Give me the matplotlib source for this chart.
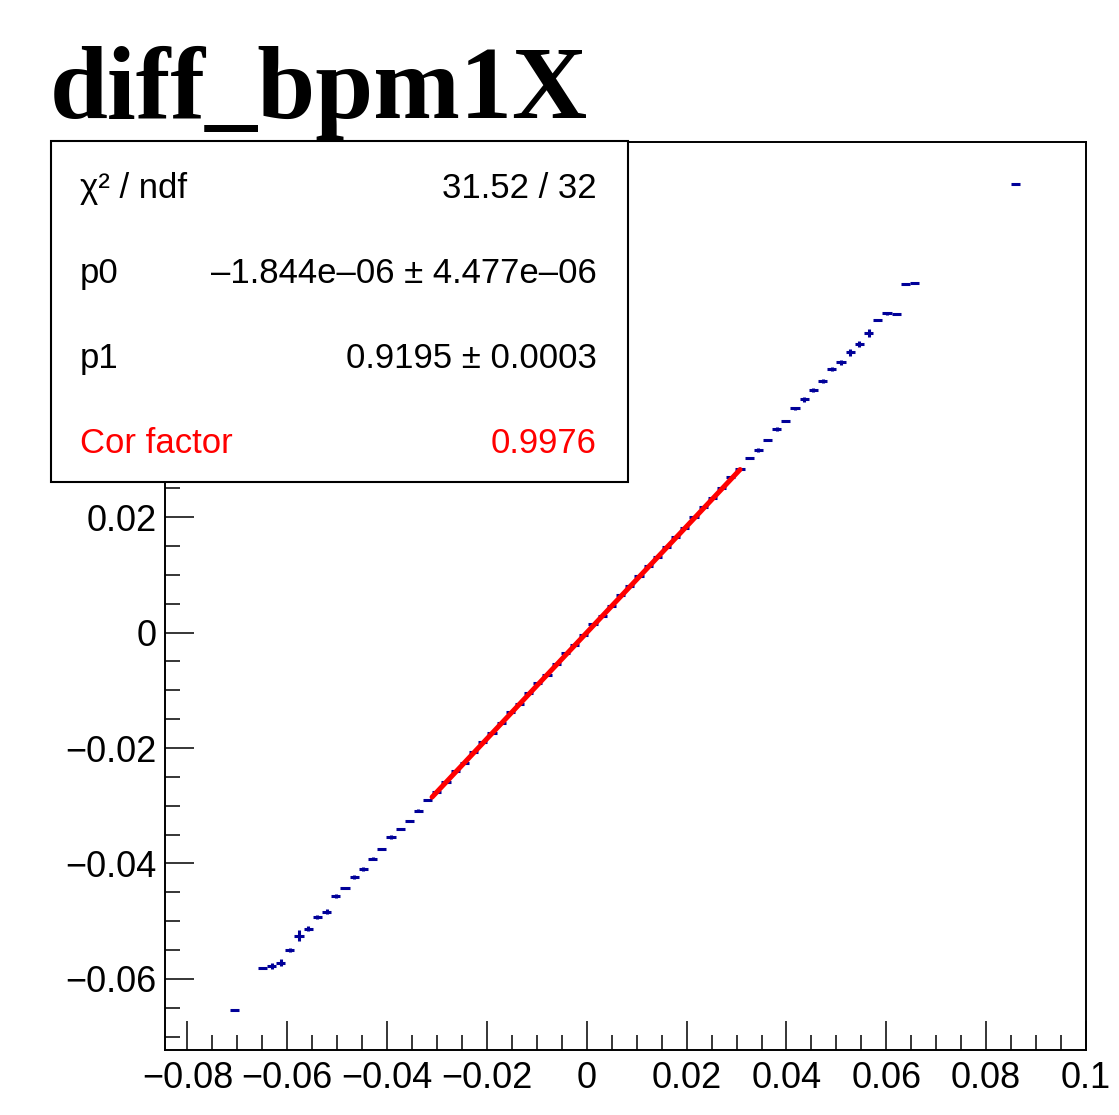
"""
diff_bpm1X profile with linear fit, ROOT-style canvas.
"""

import matplotlib
matplotlib.use("Agg")
import matplotlib.pyplot as plt
import matplotlib.patches as mpatches
from matplotlib.ticker import MultipleLocator, FuncFormatter

plt.rcParams["font.family"] = ["Liberation Sans", "DejaVu Sans"]

# profile bins (centres)
bin_x = [
    -0.07052, -0.06500, -0.06316, -0.06132, -0.05948, -0.05764, -0.05580,
    -0.05396, -0.05212, -0.05028, -0.04844, -0.04660, -0.04476, -0.04292,
    -0.04108, -0.03924, -0.03740, -0.03556, -0.03372, -0.03188, -0.03004,
    -0.02820, -0.02636, -0.02452, -0.02268, -0.02084, -0.01900, -0.01716,
    -0.01532, -0.01348, -0.01164, -0.00980, -0.00796, -0.00612, -0.00428,
    -0.00244, -0.00060, 0.00124, 0.00308, 0.00492, 0.00676, 0.00860,
    0.01044, 0.01228, 0.01412, 0.01596, 0.01780, 0.01964, 0.02148,
    0.02332, 0.02516, 0.02700, 0.02884, 0.03068, 0.03252, 0.03436,
    0.03620, 0.03804, 0.03988, 0.04172, 0.04356, 0.04540, 0.04724,
    0.04908, 0.05092, 0.05276, 0.05460, 0.05644, 0.05828, 0.06012,
    0.06196, 0.06380, 0.06564, 0.08588,
]
bin_y = [
    -0.06537, -0.05810, -0.05775, -0.05718, -0.05498, -0.05250, -0.05129,
    -0.04926, -0.04835, -0.04563, -0.04424, -0.04234, -0.04095, -0.03917,
    -0.03744, -0.03541, -0.03403, -0.03264, -0.03086, -0.02900, -0.02767,
    -0.02584, -0.02393, -0.02255, -0.02075, -0.01891, -0.01745, -0.01562,
    -0.01377, -0.01234, -0.01053, -0.00870, -0.00731, -0.00545, -0.00360,
    -0.00216, -0.00038, 0.00147, 0.00286, 0.00464, 0.00649, 0.00805,
    0.00978, 0.01152, 0.01303, 0.01486, 0.01659, 0.01805, 0.02005,
    0.02179, 0.02324, 0.02497, 0.02698, 0.02826, 0.03016, 0.03160,
    0.03333, 0.03524, 0.03667, 0.03882, 0.04038, 0.04199, 0.04355,
    0.04563, 0.04679, 0.04857, 0.04996, 0.05181, 0.05411, 0.05527,
    0.05510, 0.06029, 0.06057, 0.07766,
]
bin_err = [
    0.0, 0.0002, 0.0006, 0.0006, 0.0004, 0.0010, 0.0004,
    0.0004, 0.0004, 0.0003, 0.0002, 0.0003, 0.0003, 0.0003,
    0.0002, 0.0003, 0.0002, 0.0002, 0.0003, 0.0002, 0.0002,
    0.0002, 0.0001, 0.0002, 0.0001, 0.0002, 0.0001, 0.0002,
    0.0001, 0.0002, 0.0001, 0.0001, 0.0002, 0.0001, 0.0001,
    0.0001, 0.0001, 0.0001, 0.0001, 0.0001, 0.0001, 0.0001,
    0.0001, 0.0001, 0.0001, 0.0001, 0.0001, 0.0001, 0.0001,
    0.0001, 0.0001, 0.0002, 0.0001, 0.0001, 0.0001, 0.0003,
    0.0001, 0.0003, 0.0001, 0.0003, 0.0004, 0.0003, 0.0003,
    0.0003, 0.0004, 0.0006, 0.0006, 0.0007, 0.0002, 0.0003,
    0.0001, 0.0001, 0.0002, 0.0,
]
bin_half_width = 0.00092

# linear fit pol1
fit_p0 = -1.844e-06
fit_p1 = 0.9195
fit_range = [-0.0310, 0.0307]

stat_labels = ["χ² / ndf", "p0", "p1", "Cor factor"]
stat_values = ["31.52 / 32", "–1.844e–06 ± 4.477e–06", "0.9195 ± 0.0003", "0.9976"]
stat_colors = ["black", "black", "black", "red"]

title = "diff_bpm1X"
x_range = (-0.0845, 0.1)
y_range = (-0.0723, 0.0850)

W, H = 1119, 1115


def tick_fmt(v, _pos):
    v = round(v, 6)
    if v > 0.03:   # hidden under the stats box anyway
        return ""
    return f"{v:g}".replace("-", "−")


def main():
    fig = plt.figure(figsize=(W / 100, H / 100), dpi=100)
    fig.patch.set_facecolor("white")
    ax = fig.add_axes([165 / W, 1 - 1050 / H, (1086 - 165) / W, (1050 - 141.7) / H])

    ax.errorbar(bin_x, bin_y, xerr=bin_half_width, yerr=bin_err, fmt="none",
                ecolor="#000099", elinewidth=2.2, capsize=0, zorder=2)

    fx = fit_range
    fy = [fit_p0 + fit_p1 * v for v in fx]
    ax.plot(fx, fy, color="red", linewidth=3.6, solid_capstyle="round", zorder=3)

    ax.set_xlim(*x_range)
    ax.set_ylim(*y_range)

    ax.xaxis.set_major_locator(MultipleLocator(0.02))
    ax.xaxis.set_minor_locator(MultipleLocator(0.005))
    ax.yaxis.set_major_locator(MultipleLocator(0.02))
    ax.yaxis.set_minor_locator(MultipleLocator(0.005))
    ax.xaxis.set_major_formatter(FuncFormatter(lambda v, p: f"{round(v, 6):g}".replace("-", "−")))
    ax.yaxis.set_major_formatter(FuncFormatter(tick_fmt))

    ax.tick_params(which="both", direction="in", top=False, right=False,
                   width=1.1, labelsize=26, colors="black")
    ax.tick_params(which="major", length=21)
    ax.tick_params(which="minor", length=10.5)
    ax.tick_params(axis="x", which="major", pad=8)
    ax.tick_params(axis="y", which="major", pad=6)
    for spine in ax.spines.values():
        spine.set_linewidth(1.4)

    # stats box
    box = mpatches.Rectangle((51 / W, 1 - 482 / H), 577 / W, 341 / H,
                             transform=fig.transFigure, facecolor="white",
                             edgecolor="black", linewidth=1.5, zorder=5)
    fig.add_artist(box)
    rows_y = [198, 283, 368, 453]
    for lab, val, col, py in zip(stat_labels, stat_values, stat_colors, rows_y):
        fig.text(80 / W, 1 - py / H, lab, fontsize=25, color=col,
                 ha="left", va="baseline", zorder=6)
        fig.text(597 / W, 1 - py / H, val, fontsize=25, color=col,
                 ha="right", va="baseline", zorder=6)

    fig.text(50 / W, 1 - 118 / H, title, fontsize=75, fontweight="bold",
             family="Liberation Serif", ha="left", va="baseline")

    fig.savefig("out.png", dpi=100, facecolor="white")
    plt.close(fig)


if __name__ == "__main__":
    main()
